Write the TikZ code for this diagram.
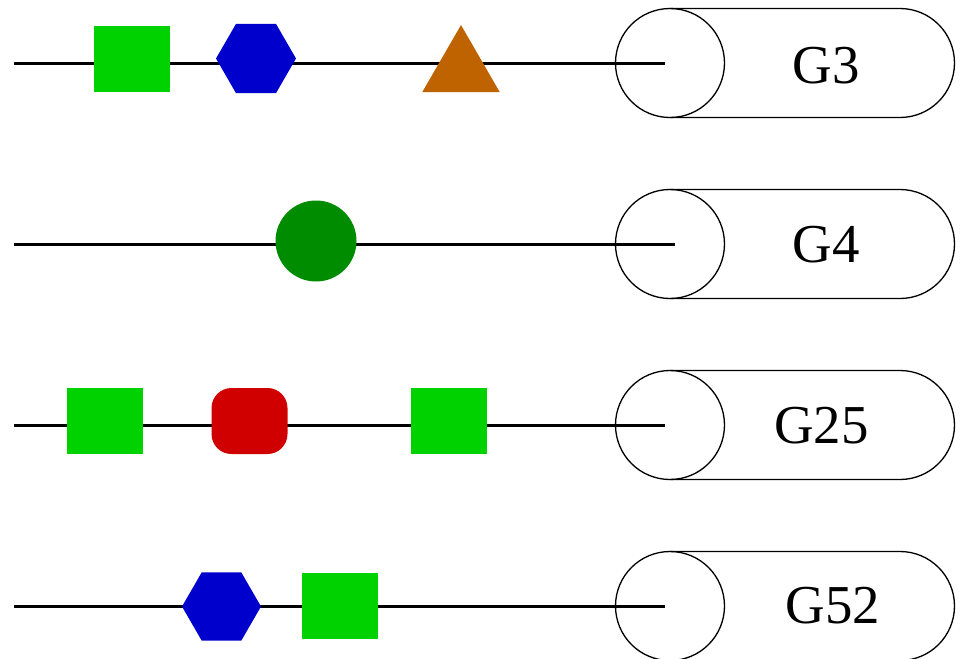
\documentclass[tikz,border=0pt]{standalone}
\usepackage{fontspec}
\setmainfont{Liberation Serif}
\usetikzlibrary{shapes.geometric}

\definecolor{resgreen}{RGB}{0,210,0}
\definecolor{resdkgreen}{RGB}{0,140,0}
\definecolor{resblue}{RGB}{0,0,204}
\definecolor{resorange}{RGB}{191,99,0}
\definecolor{resred}{RGB}{209,0,0}

\begin{document}
\begin{tikzpicture}[x=0.25mm, y=0.25mm,
  residue/.style={inner sep=0pt, outer sep=0pt},
  sqres/.style={residue, rectangle, fill=resgreen, minimum width=19mm, minimum height=16.5mm},
  rndres/.style={residue, rectangle, rounded corners=5mm, fill=resred, minimum width=19mm, minimum height=16.5mm},
  hexres/.style={residue, regular polygon, regular polygon sides=6, fill=resblue, minimum size=20mm},
  trires/.style={residue, regular polygon, regular polygon sides=3, fill=resorange, minimum size=22.35mm},
  cirres/.style={residue, circle, fill=resdkgreen, minimum size=20.25mm},
  backbone/.style={line width=0.75mm},
  grplabel/.style={font=\fontsize{39}{46}\selectfont}]

\useasboundingbox (0,0) rectangle (964,-659);

% group cylinders
\foreach \y/\lx/\ly/\ex/\name in {-63/826/-66/665/G3, -244/826.5/-245/675/G4, -425/821.5/-425.5/665/G25, -606/833/-606/665/G52} {
  \draw[line width=0.33mm, fill=white] (670,\y+54.5) -- (900,\y+54.5) arc (90:-90:54.5) -- (670,\y-54.5);
  \draw[line width=0.33mm] (670,\y) circle (54.5);
  \node[grplabel] (\name) at (\lx,\ly) {\name};
  \coordinate (start\name) at (14,\y);
  \coordinate (end\name) at (\ex,\y);
}

% chains
\draw[backbone] (startG3) -- (endG3);
\draw[backbone] (startG4) -- (endG4);
\draw[backbone] (startG25) -- (endG25);
\draw[backbone] (startG52) -- (endG52);

% G3
\node[sqres] (g3a) at (132,-59) {};
\node[hexres] (g3b) at (256,-58.5) {};
\node[trires] (g3c) at (461,-69.7) {};

% G4
\node[cirres] (g4a) at (316,-241) {};

% G25
\node[sqres] (g25a) at (105,-421) {};
\node[rndres] (g25b) at (249.5,-421) {};
\node[sqres] (g25c) at (448.5,-421) {};

% G52
\node[hexres, minimum size=19.75mm] (g52a) at (221.5,-606.5) {};
\node[sqres] (g52b) at (340,-606) {};

\end{tikzpicture}
\end{document}
